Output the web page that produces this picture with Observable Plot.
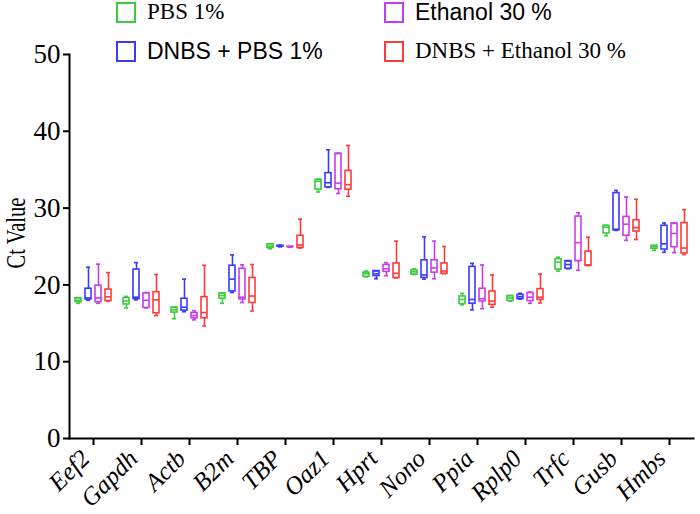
<!DOCTYPE html>
<html>
<head>
<meta charset="utf-8">
<script src="https://cdn.jsdelivr.net/npm/d3@7"></script>
<script src="https://cdn.jsdelivr.net/npm/@observablehq/plot@0.6"></script>
<style>
  html, body { margin: 0; padding: 0; background: #fff; }
  #wrap { position: relative; width: 700px; height: 514px; overflow: hidden; }
  #legend { position: absolute; left: 0; top: 0; width: 700px; height: 64px; }
  .item { position: absolute; height: 22px; display: flex; align-items: center; white-space: nowrap; color: #000; }
  .sw { width: 16px; height: 17px; border: 2px solid; margin-right: 11px; box-sizing: content-box; }
  .serif { font-family: "Liberation Serif", serif; font-size: 23px; }
  .sans { font-family: "Liberation Sans", sans-serif; font-size: 23px; }
  #ylabel { position: absolute; left: 16px; top: 233px; transform: translate(-50%, -50%) rotate(-90deg) scaleX(0.76);
    font-family: "Liberation Serif", serif; font-size: 27px; white-space: nowrap; color: #000; line-height: 1; }
</style>
</head>
<body>
<div id="wrap"><div id="chart"></div><div id="legend"></div><div id="ylabel"></div></div>
<script>
const genes = ["Eef2", "Gapdh", "Actb", "B2m", "TBP", "Oaz1", "Hprt", "Nono", "Ppia", "Rplp0", "Trfc", "Gusb", "Hmbs"];
const groups = ["PBS 1%", "DNBS + PBS 1%", "Ethanol 30 %", "DNBS + Ethanol 30 %"];
const colors = ["#3bcc3b", "#3a3aff", "#c63cf2", "#ff3a3a"];
const legendFonts = ["serif", "sans", "sans", "serif"];
const yTicks = [0, 10, 20, 30, 40, 50];
const yLabel = "Ct Value";

// [min, q1, median, q3, max] per gene
const pbs = [
  [17.6, 17.75, 18.0, 18.25, 18.35], [17.0, 17.45, 17.9, 18.3, 18.5], [15.6, 16.4, 16.75, 17.05, 17.1],
  [17.6, 18.2, 18.6, 18.9, 18.95], [24.7, 24.8, 25.05, 25.3, 25.35], [32.1, 32.4, 33.5, 33.7, 33.75],
  [21.05, 21.05, 21.45, 21.6, 21.8], [21.35, 21.35, 21.7, 21.9, 22.1], [17.4, 17.5, 18.1, 18.5, 18.9],
  [17.9, 17.9, 18.3, 18.55, 18.6], [21.8, 22.0, 22.95, 23.35, 23.6], [26.4, 26.7, 27.5, 27.7, 27.75],
  [24.5, 24.7, 24.95, 25.1, 25.1]
];
const dnbsPbs = [
  [18.0, 18.1, 18.3, 19.5, 22.3], [18.05, 18.15, 18.4, 22.0, 22.9], [16.5, 16.65, 17.1, 18.2, 20.75],
  [19.0, 19.15, 20.75, 22.5, 23.9], [24.95, 25.0, 25.05, 25.1, 25.15], [32.7, 32.7, 33.3, 34.55, 37.6],
  [20.8, 21.15, 21.45, 21.8, 21.8], [20.75, 20.9, 21.3, 23.2, 26.25], [16.75, 17.55, 18.1, 22.35, 22.8],
  [18.15, 18.15, 18.45, 18.7, 18.9], [22.1, 22.1, 22.65, 23.1, 23.1], [27.1, 27.1, 27.25, 31.95, 32.3],
  [24.25, 24.6, 25.35, 27.7, 28.05]
];
const ethanol = [
  [17.6, 17.75, 18.3, 19.9, 22.7], [17.0, 17.0, 18.0, 18.9, 19.0], [15.45, 15.65, 16.0, 16.35, 16.65],
  [17.7, 18.1, 18.4, 22.1, 22.6], [24.9, 24.93, 24.95, 24.97, 25.0], [31.9, 32.45, 33.25, 37.1, 37.1],
  [21.2, 21.7, 22.1, 22.6, 22.9], [20.8, 21.6, 22.2, 23.2, 25.7], [16.9, 17.85, 18.2, 19.5, 22.6],
  [17.6, 17.9, 18.4, 18.95, 19.05], [21.9, 23.1, 25.5, 28.9, 29.4], [25.8, 26.4, 27.9, 28.85, 31.45],
  [24.2, 24.9, 26.7, 28.0, 28.0]
];
const dnbsEthanol = [
  [17.9, 17.9, 18.45, 19.4, 21.6], [16.0, 16.3, 18.05, 19.05, 21.35], [14.65, 15.65, 16.4, 18.4, 22.55],
  [16.6, 17.65, 18.55, 20.9, 22.65], [24.8, 24.8, 25.2, 26.4, 28.55], [31.55, 32.4, 33.05, 34.85, 38.15],
  [20.9, 20.9, 21.5, 22.8, 25.7], [21.45, 21.45, 21.8, 22.8, 25.0], [17.1, 17.4, 17.9, 19.15, 21.3],
  [17.65, 18.05, 18.4, 19.45, 21.4], [22.5, 22.5, 22.6, 24.35, 26.2], [25.9, 26.95, 27.45, 28.4, 31.15],
  [23.95, 24.1, 24.8, 28.05, 29.8]
];
const series = [pbs, dnbsPbs, ethanol, dnbsEthanol];

const rows = groups.flatMap((g, i) => series[i].map((s, j) => ({
  gene: genes[j], group: g, min: s[0], q1: s[1], med: s[2], q3: s[3], max: s[4]
})));

const sw = 1.6;
const chart = Plot.plot({
  width: 700,
  height: 514,
  marginTop: 54,
  marginBottom: 76,
  marginLeft: 64,
  marginRight: 2,
  style: { fontFamily: "Liberation Serif, serif", background: "white", color: "black", overflow: "visible" },
  facet: { data: rows, x: "gene" },
  fx: { domain: genes, padding: 0, label: null },
  x: { domain: groups, paddingInner: 0.42, paddingOuter: 0.555, axis: null },
  y: { domain: [0, 50], axis: null },
  color: { domain: groups, range: colors },
  marks: [
    Plot.axisY({ ticks: yTicks, tickSize: 6, tickPadding: 3, fontSize: 27, strokeWidth: 2, label: null }),
    Plot.axisFx({ anchor: "bottom", tickSize: 7, tickFormat: () => "", strokeWidth: 2, label: null }),
    Plot.axisFx({ anchor: "bottom", tickSize: 0, tickPadding: 16, tickRotate: -45, fontSize: 25,
      fontStyle: "italic", dx: -8, label: null }),
    Plot.frame({ anchor: "bottom", strokeWidth: 2, facet: "super" }),
    Plot.frame({ anchor: "left", strokeWidth: 2, facet: "super" }),
    Plot.ruleX(rows, { x: "group", y1: "min", y2: "max", stroke: "group", strokeWidth: sw }),
    Plot.barY(rows, { x: "group", y1: "q1", y2: "q3", fill: "white", stroke: "group", strokeWidth: sw }),
    Plot.tickY(rows, { x: "group", y: "med", stroke: "group", strokeWidth: sw }),
    Plot.tickY(rows, { x: "group", y: "min", stroke: "group", strokeWidth: sw, insetLeft: 1, insetRight: 1 }),
    Plot.tickY(rows, { x: "group", y: "max", stroke: "group", strokeWidth: sw, insetLeft: 1, insetRight: 1 })
  ]
});
document.getElementById("chart").appendChild(chart);
document.getElementById("ylabel").textContent = yLabel;

const legend = document.getElementById("legend");
const pos = [[116, 1], [116, 40], [384, 1], [384, 40]];
groups.forEach((g, i) => {
  const item = document.createElement("div");
  item.className = "item " + legendFonts[i];
  item.style.left = pos[i][0] + "px";
  item.style.top = pos[i][1] + "px";
  const box = document.createElement("span");
  box.className = "sw";
  box.style.borderColor = colors[i];
  const label = document.createElement("span");
  label.textContent = g;
  item.appendChild(box);
  item.appendChild(label);
  legend.appendChild(item);
});
</script>
</body>
</html>
